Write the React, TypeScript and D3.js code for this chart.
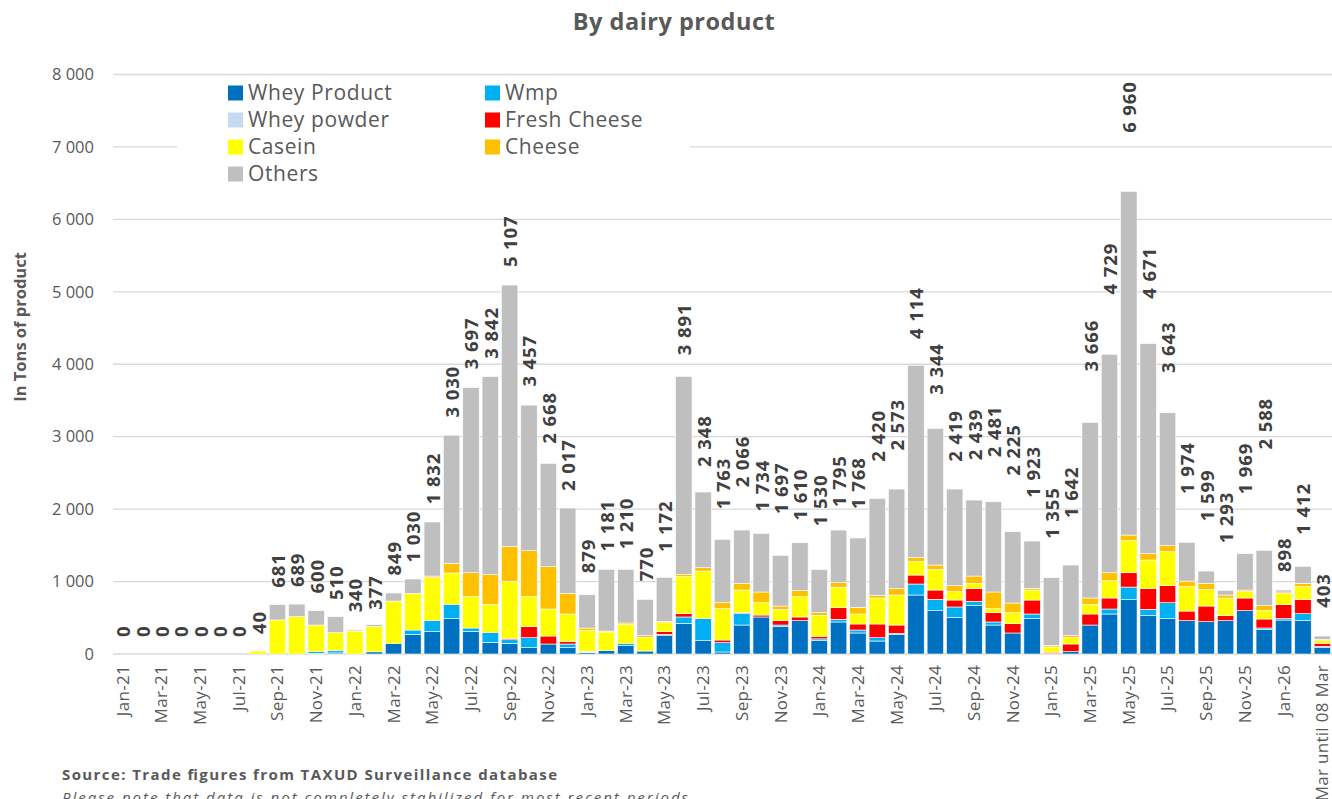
import React, { useEffect, useRef } from 'react'
import * as d3 from 'd3'

// Monthly categories
const months = [
  'Jan-21', 'Feb-21', 'Mar-21', 'Apr-21', 'May-21', 'Jun-21', 'Jul-21', 'Aug-21', 'Sep-21', 'Oct-21', 'Nov-21', 'Dec-21',
  'Jan-22', 'Feb-22', 'Mar-22', 'Apr-22', 'May-22', 'Jun-22', 'Jul-22', 'Aug-22', 'Sep-22', 'Oct-22', 'Nov-22', 'Dec-22',
  'Jan-23', 'Feb-23', 'Mar-23', 'Apr-23', 'May-23', 'Jun-23', 'Jul-23', 'Aug-23', 'Sep-23', 'Oct-23', 'Nov-23', 'Dec-23',
  'Jan-24', 'Feb-24', 'Mar-24', 'Apr-24', 'May-24', 'Jun-24', 'Jul-24', 'Aug-24', 'Sep-24', 'Oct-24', 'Nov-24', 'Dec-24',
  'Jan-25', 'Feb-25', 'Mar-25', 'Apr-25', 'May-25', 'Jun-25', 'Jul-25', 'Aug-25', 'Sep-25', 'Oct-25', 'Nov-25', 'Dec-25',
  'Jan-26', 'Feb-26', 'Mar until 08 Mar',
]

// Series (tons)
const wheyProduct = [
  0, 0, 0, 0, 0, 0, 0, 0, 0, 0, 10, 15,
  0, 30, 143, 271, 308, 488, 313, 161, 147, 87, 138, 87,
  20, 46, 115, 41, 260, 423, 184, 28, 400, 511, 377, 460,
  190, 442, 290, 179, 267, 814, 598, 506, 667, 400, 290, 488,
  5, 32, 400, 552, 750, 529, 488, 460, 446, 460, 598, 340,
  469, 460, 87,
]
const wmp = [
  0, 0, 0, 0, 0, 0, 0, 0, 0, 0, 25, 30,
  0, 0, 0, 60, 152, 193, 46, 133, 50, 138, 0, 51,
  5, 0, 28, 0, 11, 88, 304, 128, 161, 0, 23, 0,
  19, 37, 41, 46, 18, 152, 156, 143, 60, 42, 0, 64,
  0, 0, 0, 69, 174, 87, 220, 0, 0, 0, 0, 19,
  19, 97, 19,
]
const wheyPowder = [
  0, 0, 0, 0, 0, 0, 0, 0, 0, 0, 0, 0,
  0, 0, 0, 0, 0, 0, 0, 0, 0, 0, 0, 0,
  4, 0, 0, 0, 0, 0, 0, 0, 0, 0, 0, 0,
  0, 0, 0, 0, 0, 0, 0, 0, 0, 0, 0, 0,
  0, 0, 0, 0, 0, 0, 0, 0, 0, 0, 0, 0,
  0, 0, 0,
]
const freshCheese = [
  0, 0, 0, 0, 0, 0, 0, 0, 0, 0, 0, 0,
  0, 0, 0, 0, 0, 0, 0, 0, 20, 152, 110, 37,
  10, 0, 0, 0, 37, 46, 0, 37, 14, 27, 60, 51,
  36, 160, 83, 189, 115, 124, 129, 96, 175, 128, 129, 193,
  20, 106, 152, 152, 198, 286, 235, 133, 216, 69, 175, 124,
  193, 193, 41,
]
const casein = [
  0, 0, 0, 0, 0, 0, 0, 40, 470, 515, 365, 249,
  317, 352, 588, 506, 593, 437, 437, 391, 786, 419, 373, 377,
  287, 258, 266, 189, 124, 510, 657, 433, 308, 170, 157, 280,
  290, 281, 138, 359, 414, 184, 286, 115, 73, 56, 156, 138,
  72, 87, 133, 239, 442, 395, 469, 336, 226, 244, 87, 120,
  156, 179, 37,
]
const cheese = [
  0, 0, 0, 0, 0, 0, 0, 0, 0, 0, 0, 0,
  0, 0, 0, 0, 23, 133, 326, 415, 483, 630, 584, 285,
  32, 13, 19, 23, 19, 33, 46, 82, 92, 148, 45, 83,
  37, 69, 92, 37, 88, 60, 59, 83, 101, 230, 129, 23,
  23, 28, 88, 110, 78, 88, 83, 78, 87, 41, 23, 64,
  19, 46, 18,
]
const others = [
  0, 0, 0, 0, 0, 0, 0, 0, 211, 174, 198, 221,
  15, 23, 111, 198, 746, 1770, 2556, 2730, 3607, 2010, 1426, 1178,
  460, 852, 741, 501, 607, 2732, 1045, 875, 736, 809, 700, 662,
  594, 722, 957, 1338, 1375, 2652, 1885, 1334, 1049, 1246, 984, 653,
  933, 975, 2423, 3016, 4744, 2900, 1835, 534, 170, 65, 502, 764,
  27, 235, 46,
]

// Total labels shown above the bars
const totals = [
  0, 0, 0, 0, 0, 0, 0, 40, 681, 689, 600, 510,
  340, 377, 849, 1030, 1832, 3030, 3697, 3842, 5107, 3457, 2668, 2017,
  879, 1181, 1210, 770, 1172, 3891, 2348, 1763, 2066, 1734, 1697, 1610,
  1530, 1795, 1768, 2420, 2573, 4114, 3344, 2419, 2439, 2481, 2225, 1923,
  1355, 1642, 3666, 4729, 6960, 4671, 3643, 1974, 1599, 1293, 1969, 2588,
  898, 1412, 403,
]

const seriesNames = ['Whey Product', 'Wmp', 'Whey powder', 'Fresh Cheese', 'Casein', 'Cheese', 'Others']
const seriesColors = ['#0070C0', '#00B0F0', '#C5D9F1', '#FF0000', '#FFFF00', '#FFC000', '#BFBFBF']
const yTicks = [0, 1000, 2000, 3000, 4000, 5000, 6000, 7000, 8000]

const FONT = "'Open Sans', 'Noto Sans', sans-serif"
const fmt = (v: number) => d3.format(',')(v).replace(/,/g, ' ')

export default function App() {
  const svgRef = useRef<SVGSVGElement>(null)

  useEffect(() => {
    if (!svgRef.current) return
    const width = 1332
    const height = 799
    const svg = d3.select(svgRef.current)
    svg.selectAll('*').remove()

    const x = d3.scaleBand<string>().domain(months).range([113, 1332]).paddingInner(0.15).paddingOuter(0.075)
    const y = d3.scaleLinear().domain([0, 8000]).range([654, 74.5])

    const seriesArrays = [wheyProduct, wmp, wheyPowder, freshCheese, casein, cheese, others]
    const rows = months.map((m, i) => {
      const r: any = { month: m }
      seriesNames.forEach((s, k) => (r[s] = seriesArrays[k][i]))
      return r
    })
    const stacked = d3.stack<any>().keys(seriesNames)(rows)

    // Gridlines
    svg
      .append('g')
      .selectAll('line')
      .data(yTicks)
      .join('line')
      .attr('x1', 113)
      .attr('x2', width)
      .attr('y1', (d) => y(d))
      .attr('y2', (d) => y(d))
      .attr('stroke', '#D9D9D9')
      .attr('stroke-width', 1.3)

    // Y tick labels
    svg
      .append('g')
      .selectAll('text')
      .data(yTicks)
      .join('text')
      .attr('x', 94)
      .attr('y', (d) => y(d))
      .attr('dy', '0.35em')
      .attr('text-anchor', 'end')
      .attr('font-family', FONT)
      .attr('font-size', 16.5)
      .attr('fill', '#595959')
      .text((d) => fmt(d))

    // Legend background (covers gridlines)
    svg.append('rect').attr('x', 177).attr('y', 79).attr('width', 513).attr('height', 108).attr('fill', '#fff')

    // Bars
    svg
      .append('g')
      .selectAll('g')
      .data(stacked)
      .join('g')
      .attr('fill', (_, k) => seriesColors[k])
      .selectAll('rect')
      .data((d) => d)
      .join('rect')
      .attr('x', (d) => x(d.data.month) as number)
      .attr('width', x.bandwidth())
      .attr('y', (d) => y(d[1]))
      .attr('height', (d) => Math.max(0, y(d[0]) - y(d[1])))
      .attr('stroke', (d) => (d[1] - d[0] > 0 ? '#fff' : 'none'))
      .attr('stroke-width', 0.6)

    // Total labels
    svg
      .append('g')
      .selectAll('text')
      .data(totals)
      .join('text')
      .attr('transform', (d, i) => `translate(${(x(months[i]) as number) + x.bandwidth() / 2 + 1},${y(d) - 17}) rotate(-90)`)
      .attr('dy', '0.35em')
      .attr('font-family', FONT)
      .attr('font-weight', 'bold')
      .attr('font-size', 18.5)
      .attr('letter-spacing', 0.9)
      .attr('fill', '#404040')
      .text((d) => fmt(d))

    // X tick labels (every other month + last)
    svg
      .append('g')
      .selectAll('text')
      .data(months.filter((_, i) => i % 2 === 0))
      .join('text')
      .attr('transform', (d) => `translate(${(x(d) as number) + x.bandwidth() / 2},665) rotate(-90)`)
      .attr('dy', '0.35em')
      .attr('text-anchor', 'end')
      .attr('font-family', FONT)
      .attr('font-size', 17)
      .attr('letter-spacing', 0.3)
      .attr('fill', '#595959')
      .text((d) => d)

    // Title
    svg
      .append('text')
      .attr('x', 674)
      .attr('y', 30)
      .attr('text-anchor', 'middle')
      .attr('font-family', FONT)
      .attr('font-weight', 'bold')
      .attr('font-size', 23.5)
      .attr('letter-spacing', 0.5)
      .attr('fill', '#595959')
      .text('By dairy product')

    // Y axis title
    svg
      .append('text')
      .attr('transform', 'translate(20,327) rotate(-90)')
      .attr('dy', '0.35em')
      .attr('text-anchor', 'middle')
      .attr('font-family', FONT)
      .attr('font-weight', 'bold')
      .attr('font-size', 16.5)
      .attr('fill', '#595959')
      .text('In Tons of product')

    // Legend
    const legend = svg.append('g')
    seriesNames.forEach((name, k) => {
      const col = k % 2
      const row = Math.floor(k / 2)
      const lx = col === 0 ? 228 : 485
      const ly = 93 + row * 27
      legend.append('rect').attr('x', lx).attr('y', ly - 7.5).attr('width', 15).attr('height', 15).attr('fill', seriesColors[k])
      legend
        .append('text')
        .attr('x', lx + 20)
        .attr('y', ly)
        .attr('dy', '0.35em')
        .attr('font-family', FONT)
        .attr('font-size', 21)
        .attr('letter-spacing', 0.6)
        .attr('fill', '#595959')
        .text(name)
    })

    // Source notes
    svg
      .append('text')
      .attr('x', 62)
      .attr('y', 780)
      .attr('font-family', FONT)
      .attr('font-weight', 'bold')
      .attr('font-size', 15)
      .attr('textLength', 495)
      .attr('lengthAdjust', 'spacing')
      .attr('fill', '#595959')
      .text('Source: Trade figures from TAXUD Surveillance database')
    svg
      .append('text')
      .attr('x', 62)
      .attr('y', 803)
      .attr('font-family', FONT)
      .attr('font-style', 'italic')
      .attr('font-size', 15)
      .attr('textLength', 626)
      .attr('lengthAdjust', 'spacing')
      .attr('fill', '#595959')
      .text('Please note that data is not completely stabilized for most recent periods')

    svg.attr('width', width).attr('height', height)
  }, [])

  return (
    <div style={{ position: 'absolute', left: 0, top: 0 }}>
      <svg ref={svgRef} style={{ display: 'block' }}></svg>
    </div>
  )
}
